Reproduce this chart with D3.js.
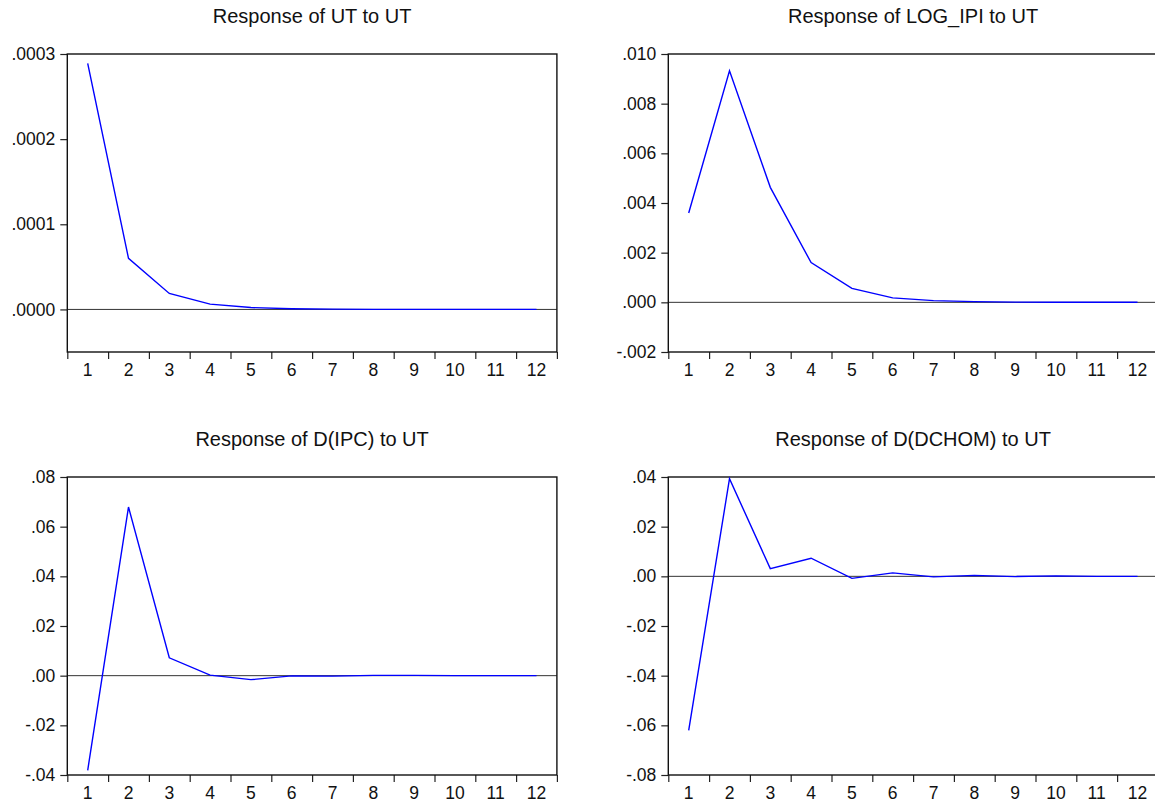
<!DOCTYPE html>
<html>
<head>
<meta charset="utf-8">
<script src="https://cdn.jsdelivr.net/npm/d3@7"></script>
<style>
  body { margin: 0; background: #fff; }
  svg text { font-family: Arial, "Liberation Sans", sans-serif; fill: #111; }
</style>
</head>
<body>
<div id="chart"></div>
<script>
// horizon periods
var periods = [1, 2, 3, 4, 5, 6, 7, 8, 9, 10, 11, 12];

// responses
var utToUt = [0.000289, 0.0000600, 0.0000188, 0.0000062, 0.0000022, 0.0000008,
              0.0000003, 0.0000001, 0.00000005, 0.00000002, 0.00000001, 0.000000005];
var logIpiToUt = [0.00360, 0.00932, 0.00463, 0.00160, 0.00056, 0.00018,
                  0.00007, 0.00003, 0.00001, 0.000005, 0.000002, 0.000001];
var dIpcToUt = [-0.0381, 0.0679, 0.0072, 0.0002, -0.0016, -0.0001,
                -0.0002, 0.0001, 0.0001, 0.0000, 0.0000, 0.0000];
var dDchomToUt = [-0.0620, 0.0393, 0.0031, 0.0073, -0.0008, 0.0014,
                  -0.0002, 0.0004, -0.0001, 0.0002, 0.0000, 0.0000];

var titles = ["Response of UT to UT", "Response of LOG_IPI to UT",
              "Response of D(IPC) to UT", "Response of D(DCHOM) to UT"];
var yDomains = [[-0.00005, 0.0003], [-0.002, 0.010], [-0.04, 0.08], [-0.08, 0.04]];
var yTicks = [[0, 0.0001, 0.0002, 0.0003],
              [-0.002, 0, 0.002, 0.004, 0.006, 0.008, 0.010],
              [-0.04, -0.02, 0, 0.02, 0.04, 0.06, 0.08],
              [-0.08, -0.06, -0.04, -0.02, 0, 0.02, 0.04]];
var yDecimals = [4, 3, 2, 2];

var myApp = {};
(function(context) {

    var svg;

    // eviews style: plain hyphen, no leading zero
    function fmt(dec) {
        var f = d3.format("." + dec + "f");
        return function(v) {
            var s = f(Math.abs(v) < 1e-12 ? 0 : v).replace("\u2212", "-");
            return s.replace(/^(-?)0\./, "$1.");
        };
    }

    context.panel = function(left, top, series, idx) {

        var w = 489.6;
        var h = 298;

        var x = d3.scaleLinear().domain([0.5, 12.5]).range([left, left + w]);
        var y = d3.scaleLinear().domain(yDomains[idx]).range([top + h, top]);

        var g = svg.append("g");

        // title
        g.append("text")
            .attr("x", left + w / 2)
            .attr("y", top - 31)
            .attr("text-anchor", "middle")
            .style("font-size", "20px")
            .text(titles[idx]);

        // zero line
        g.append("line")
            .attr("x1", left).attr("x2", left + w)
            .attr("y1", y(0)).attr("y2", y(0))
            .attr("stroke", "#333").attr("stroke-width", 1);

        // y axis
        var yAxis = d3.axisLeft(y)
            .tickValues(yTicks[idx])
            .tickSize(7)
            .tickPadding(5)
            .tickFormat(fmt(yDecimals[idx]));
        var ya = g.append("g")
            .attr("transform", "translate(" + left + ",0)")
            .call(yAxis);
        ya.select(".domain").remove();
        ya.selectAll("line").attr("stroke", "#222").attr("stroke-width", 1.2);
        ya.selectAll("text").style("font-size", "17.5px").style("font-family", "Arial, 'Liberation Sans', sans-serif").attr("fill", "#111");

        // x axis: ticks between periods, labels on periods
        var bounds = d3.range(0.5, 13, 1);
        var xa = g.append("g")
            .attr("transform", "translate(0," + (top + h) + ")")
            .call(d3.axisBottom(x).tickValues(bounds).tickSize(7).tickFormat(""));
        xa.select(".domain").remove();
        xa.selectAll("line").attr("stroke", "#222").attr("stroke-width", 1.2);

        g.selectAll("text.xl")
            .data(periods)
            .enter()
            .append("text")
            .attr("class", "xl")
            .attr("x", function(d) { return x(d); })
            .attr("y", top + h + 24)
            .attr("text-anchor", "middle")
            .style("font-size", "17.5px")
            .text(function(d) { return d; });

        // frame
        g.append("rect")
            .attr("x", left).attr("y", top)
            .attr("width", w).attr("height", h)
            .attr("fill", "none")
            .attr("stroke", "#111")
            .attr("stroke-width", 1.4);

        // response line
        var line = d3.line()
            .x(function(d, i) { return x(periods[i]); })
            .y(function(d) { return y(d); });

        g.append("path")
            .datum(series)
            .attr("d", line)
            .attr("fill", "none")
            .attr("stroke", "#0000ff")
            .attr("stroke-width", 1.4);
    };

    context.draw = function(name) {

        svg = d3.select(name).append("svg")
                .attr("width", 1155)
                .attr("height", 804);

        this.panel(67.3, 54, utToUt, 0);
        this.panel(668.3, 54, logIpiToUt, 1);
        this.panel(67.3, 477, dIpcToUt, 2);
        this.panel(668.3, 477, dDchomToUt, 3);
    };

})(myApp);

myApp.draw("#chart");
</script>
</body>
</html>
